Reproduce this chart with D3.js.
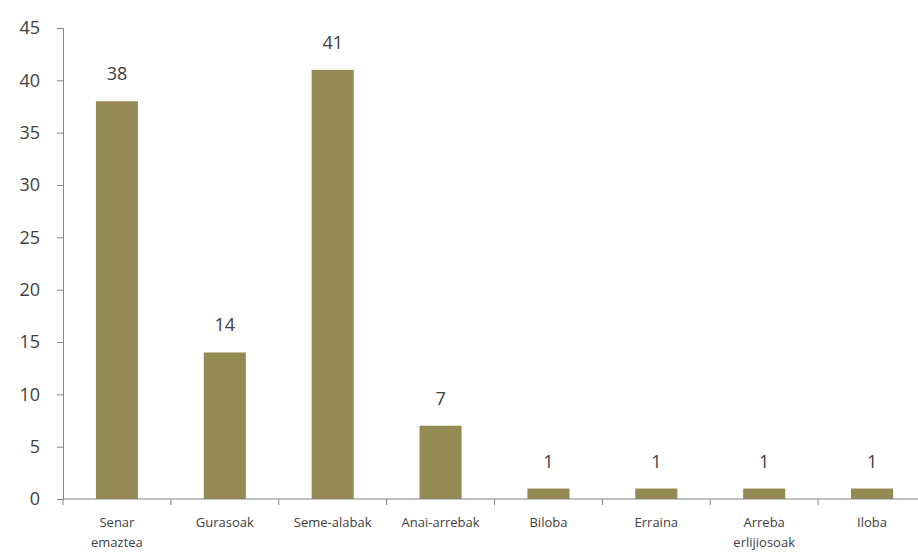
<!DOCTYPE html>
<html>
<head>
<meta charset="utf-8">
<script src="https://cdn.jsdelivr.net/npm/d3@7"></script>
<style>
  body { margin: 0; background: #fff; }
  svg { display: block; }
</style>
</head>
<body>
<div id="chart"></div>
<script>
const categories = ["Senar\nemaztea", "Gurasoak", "Seme-alabak", "Anai-arrebak", "Biloba", "Erraina", "Arreba\nerlijiosoak", "Iloba"];
const values = [38, 14, 41, 7, 1, 1, 1, 1];
const yTicks = [0, 5, 10, 15, 20, 25, 30, 35, 40, 45];

const width = 918;
const height = 552;
const margin = { top: 28, right: -8, bottom: 53, left: 63 };

const svg = d3
  .select("#chart")
  .append("svg")
  .attr("width", width)
  .attr("height", height);

const xScale = d3
  .scaleBand()
  .domain(categories)
  .range([margin.left, width - margin.right])
  .paddingInner(0.61)
  .paddingOuter(0.305);

const yScale = d3
  .scaleLinear()
  .domain([0, 45])
  .range([height - margin.bottom, margin.top]);

// bars
svg
  .append("g")
  .selectAll("rect")
  .data(values)
  .join("rect")
  .attr("x", (d, i) => xScale(categories[i]))
  .attr("y", (d) => yScale(d))
  .attr("width", xScale.bandwidth())
  .attr("height", (d) => yScale(0) - yScale(d))
  .attr("fill", "#948a54");

// y axis
const yAxis = d3.axisLeft(yScale).tickValues(yTicks).tickSize(6).tickPadding(17);
const yAxisGroup = svg
  .append("g")
  .attr("transform", `translate(${margin.left},0)`)
  .call(yAxis);
yAxisGroup.select(".domain").attr("stroke", "#868686");
yAxisGroup.selectAll(".tick line").attr("stroke", "#868686");
yAxisGroup
  .selectAll(".tick text")
  .attr("fill", "#404040")
  .style("font-family", "'Open Sans', sans-serif")
  .style("font-size", "18px");

// x axis, ticks between the bands
const step = xScale.step();
const xAxisGroup = svg.append("g");
xAxisGroup
  .append("line")
  .attr("x1", margin.left)
  .attr("x2", width - margin.right)
  .attr("y1", yScale(0))
  .attr("y2", yScale(0))
  .attr("stroke", "#868686");
xAxisGroup
  .selectAll("line.tk")
  .data(d3.range(categories.length + 1))
  .join("line")
  .attr("class", "tk")
  .attr("x1", (i) => margin.left + i * step)
  .attr("x2", (i) => margin.left + i * step)
  .attr("y1", yScale(0))
  .attr("y2", yScale(0) + 6)
  .attr("stroke", "#868686");

// category labels
const labels = svg
  .append("g")
  .selectAll("text")
  .data(categories)
  .join("text")
  .attr("x", (d) => xScale(d) + xScale.bandwidth() / 2)
  .attr("y", yScale(0) + 28)
  .attr("text-anchor", "middle")
  .attr("fill", "#404040")
  .style("font-family", "'Open Sans', sans-serif")
  .style("font-size", "13px");
labels
  .selectAll("tspan")
  .data((d) => d.split("\n").map((t) => ({ t, x: xScale(d) + xScale.bandwidth() / 2 })))
  .join("tspan")
  .attr("x", (d) => d.x)
  .attr("dy", (d, i) => (i === 0 ? 0 : 20))
  .text((d) => d.t);

// value labels
svg
  .append("g")
  .selectAll("text")
  .data(values)
  .join("text")
  .attr("x", (d, i) => xScale(categories[i]) + xScale.bandwidth() / 2)
  .attr("y", (d) => yScale(d) - 21)
  .attr("text-anchor", "middle")
  .attr("fill", "#404040")
  .style("font-family", "'Open Sans', sans-serif")
  .style("font-size", "18px")
  .text((d) => d);
</script>
</body>
</html>
